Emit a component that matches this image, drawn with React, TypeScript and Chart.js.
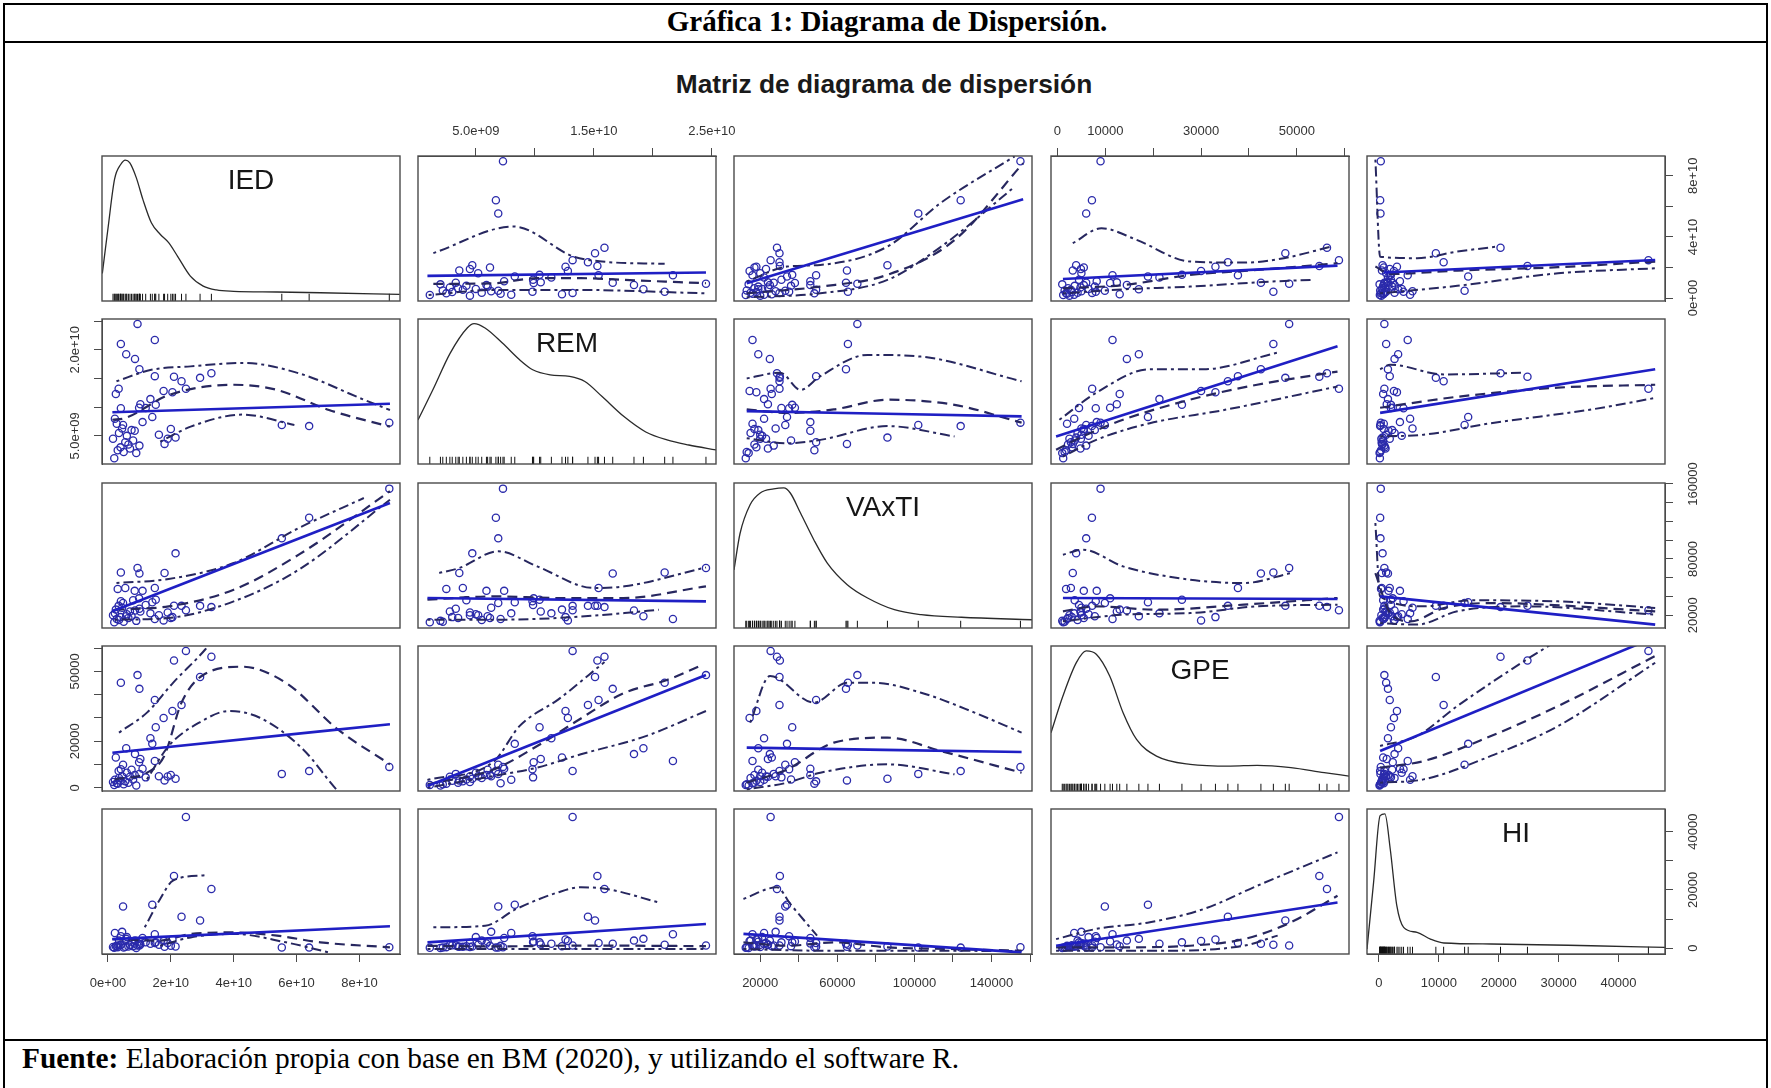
import { useEffect, useRef } from 'react';
import { Chart, registerables } from 'chart.js';

Chart.register(...registerables);

// ---------------- observations (one entry per country) ----------------
const IED = [89.5e9, 64.0e9, 55.3e9, 24.8e9, 21.5e9, 18.0e9, 10.0e9, 4.1e9, 9.4e9, 21.0e9, 32.9e9, 14.1e9, 4.8e9, 23.4e9, 29.3e9, 17.7e9, 20.5e9, 14.9e9, 15.2e9, 13.5e9, 8.6e9, 5.8e9, 14.9e9, 3.4e9, 2.5e9, 10.3e9, 2.0e9, 1.6e9, 2.2e9, 2.8e9, 3.1e9, 3.5e9, 4.0e9, 4.5e9, 5.0e9, 5.5e9, 6.0e9, 6.5e9, 7.0e9, 7.5e9, 8.0e9, 8.5e9, 9.0e9, 10.0e9, 11.0e9, 12.0e9, 16.2e9, 20.0e9, 19.0e9, 9.9e9, 4.1e9];
const REM = [7.3e9, 6.7e9, 6.9e9, 13.2e9, 4.7e9, 3.6e9, 16.6e9, 21.0e9, 24.5e9, 15.3e9, 15.9e9, 8.3e9, 6.9e9, 14.5e9, 15.1e9, 12.8e9, 12.6e9, 15.4e9, 10.4e9, 11.4e9, 18.4e9, 19.2e9, 21.7e9, 13.2e9, 12.3e9, 10.5e9, 1.1e9, 4.5e9, 8.0e9, 7.1e9, 2.5e9, 5.5e9, 3.0e9, 6.3e9, 2.2e9, 3.9e9, 5.0e9, 3.5e9, 2.8e9, 6.0e9, 4.2e9, 5.9e9, 2.0e9, 3.3e9, 7.4e9, 9.85e9, 5.2e9, 6.2e9, 4.5e9, 9.9e9, 9.8e9];
const VAXTI = [155000, 124000, 102000, 25400, 86000, 65000, 64500, 65500, 70400, 30200, 28700, 33900, 33000, 30000, 30000, 14500, 18000, 49000, 36600, 22000, 25000, 19000, 16000, 30000, 26000, 24000, 12500, 20000, 22000, 16000, 48100, 15000, 18000, 28000, 13000, 49000, 21000, 17000, 24000, 19000, 36000, 46000, 14000, 27000, 46000, 31000, 20000, 17000, 23000, 38000, 35000];
const GPE = [9000, 7200, 6000, 58800, 3900, 3200, 42500, 45100, 48400, 54700, 56300, 18900, 9900, 35600, 47600, 30000, 33000, 37700, 26000, 21300, 14500, 17000, 11500, 7250, 13000, 12400, 1200, 2500, 3500, 2000, 1800, 4200, 3000, 5000, 1500, 2800, 6500, 2200, 4800, 7800, 3600, 5500, 1000, 6000, 8200, 4500, 5000, 5500, 4900, 11000, 8000];
const HI = [300, 200, 250, 45000, 600, 500, 1500, 1200, 900, 24800, 20300, 14900, 14300, 10800, 9500, 2500, 3000, 1800, 2000, 1500, 2600, 3200, 4800, 900, 700, 1300, 150, 400, 5200, 800, 350, 2600, 1000, 5600, 200, 450, 3800, 600, 1100, 2200, 700, 1600, 100, 900, 3500, 2000, 1200, 800, 1800, 2300, 4100];

const VAR_NAMES = ['IED', 'REM', 'VAxTI', 'GPE', 'HI'];

// ---------------- axis limits ----------------
const LIM_IED = [-1.9e9, 92.9e9];
const LIM_REM = [0.1e9, 25.35e9];
const LIM_VAXTI = [6400, 161000];
const LIM_GPE = [-1350, 60900];
const LIM_HI = [-2000, 47770];

// ---------------- ticks & tick labels ----------------
const TICKS_IED = [0, 2e10, 4e10, 6e10, 8e10];
const TICKS_REM = [5e9, 1e10, 1.5e10, 2e10, 2.5e10];
const TICKS_VAXTI = [20000, 40000, 60000, 80000, 100000, 120000, 140000, 160000];
const TICKS_GPE = [0, 10000, 20000, 30000, 40000, 50000, 60000];
const TICKS_HI = [0, 10000, 20000, 30000, 40000];

const XLAB_IED = ['0e+00', '2e+10', '4e+10', '6e+10', '8e+10'];
const XLAB_REM = ['5.0e+09', '', '1.5e+10', '', '2.5e+10'];
const XLAB_VAXTI = ['20000', '', '60000', '', '100000', '', '140000', ''];
const XLAB_GPE = ['0', '10000', '', '30000', '', '50000', ''];
const XLAB_HI = ['0', '10000', '20000', '30000', '40000'];

const YLAB_IED = ['0e+00', '', '4e+10', '', '8e+10'];
const YLAB_REM = ['5.0e+09', '', '', '2.0e+10', ''];
const YLAB_VAXTI = ['20000', '', '', '80000', '', '', '', '160000'];
const YLAB_GPE = ['0', '', '20000', '', '', '50000', ''];
const YLAB_HI = ['0', '', '20000', '', '40000'];

// ---------------- diagonal densities (x value, relative height) ----------------
const DENS_IED_X = [-1.8e9, 0, 2.1e9, 4.1e9, 5.5e9, 6.9e9, 9.0e9, 11.1e9, 13.8e9, 16.6e9, 19.3e9, 22.1e9, 26.2e9, 30.3e9, 34.5e9, 40.0e9, 53.8e9, 67.6e9, 92.8e9];
const DENS_IED_Y = [0.19, 0.5, 0.84, 0.943, 0.972, 0.954, 0.851, 0.701, 0.54, 0.46, 0.402, 0.31, 0.172, 0.103, 0.076, 0.067, 0.062, 0.057, 0.046];
const DENS_REM_X = [0.1e9, 1.36e9, 2.83e9, 4.29e9, 4.85e9, 5.78e9, 7.25e9, 8.71e9, 9.82e9, 11.3e9, 12.95e9, 14.24e9, 15.7e9, 17.55e9, 19.4e9, 21.2e9, 23.05e9, 25.35e9];
const DENS_REM_Y = [0.304, 0.512, 0.765, 0.94, 0.968, 0.938, 0.834, 0.719, 0.65, 0.615, 0.604, 0.569, 0.465, 0.327, 0.221, 0.166, 0.131, 0.097];
const DENS_VAXTI_X = [6400, 9500, 14750, 20000, 27000, 32200, 35600, 40900, 47800, 54800, 65150, 75700, 89600, 103500, 124400, 161000];
const DENS_VAXTI_Y = [0.4, 0.65, 0.85, 0.931, 0.959, 0.966, 0.931, 0.793, 0.609, 0.448, 0.299, 0.207, 0.126, 0.092, 0.074, 0.057];
const DENS_GPE_X = [-1350, 1140, 3940, 6000, 8110, 10910, 13710, 16520, 20690, 27720, 36120, 41730, 48760, 55730, 60900];
const DENS_GPE_Y = [0.402, 0.655, 0.885, 0.966, 0.943, 0.793, 0.54, 0.356, 0.241, 0.184, 0.172, 0.177, 0.161, 0.126, 0.103];
const DENS_HI_X = [-2000, -900, 190, 990, 1880, 2980, 4120, 6360, 8600, 10840, 18700, 35480, 47770];
const DENS_HI_Y = [0.034, 0.494, 0.954, 0.966, 0.724, 0.333, 0.184, 0.149, 0.103, 0.076, 0.069, 0.057, 0.046];

// ---------------- fitted lines per panel (row_col): lm, loess, spread ----------------
const FIT_1_2 = {
  lm: [[0.9e9, 14.5e9], [24.5e9, 16.7e9]],
  lo: [[1.4e9, 9.3e9], [6.5e9, 9.7e9], [10.2e9, 13.0e9], [13.9e9, 13.0e9], [17.5e9, 11.9e9], [24.5e9, 9.7e9]],
  up: [[1.4e9, 29.4e9], [8.2e9, 46.8e9], [13.3e9, 27.1e9], [15.7e9, 23.9e9], [21.0e9, 22.4e9]],
  dn: [[1.0e9, 2.0e9], [6.5e9, 5.3e9], [13.9e9, 5.3e9], [24.5e9, 3.1e9]],
};
const FIT_1_3 = {
  lm: [[13000, 9.7e9], [156400, 64.7e9]],
  lo: [[13000, 3.1e9], [51200, 7.5e9], [86000, 15.2e9], [120800, 37.9e9], [156400, 88.2e9]],
  up: [[13000, 10.8e9], [33900, 20.6e9], [51200, 21.7e9], [86000, 33.7e9], [113500, 62.1e9], [152000, 92.7e9]],
  dn: [[13000, 0.5e9], [51200, 3.1e9], [86000, 11.9e9], [113900, 33.7e9], [152200, 73e9]],
};
const FIT_1_4 = {
  lm: [[1140, 12.5e9], [58500, 21.2e9]],
  lo: [[1140, 6.4e9], [13700, 8.5e9], [27700, 15.1e9], [41700, 18.4e9], [58500, 22.8e9]],
  up: [[3200, 35.9e9], [9200, 45.7e9], [16500, 38.1e9], [27700, 23.9e9], [38900, 23.2e9], [47300, 26.1e9], [57200, 33.7e9]],
  dn: [[1140, 3.1e9], [13700, 5.7e9], [27700, 7.5e9], [44500, 10.8e9], [52900, 11.9e9]],
};
const FIT_1_5 = {
  lm: [[790, 16.7e9], [46130, 24.9e9]],
  lo: [[-600, 20.6e9], [1880, 15.8e9], [13080, 18.0e9], [29900, 20.2e9], [46130, 23.9e9]],
  up: [[-600, 90.5e9], [190, 27.1e9], [6360, 26.1e9], [13080, 30.4e9], [19800, 33.7e9]],
  dn: [[190, 3.1e9], [13080, 8.0e9], [29900, 16.2e9], [46130, 19.5e9]],
};
const FIT_2_1 = {
  lm: [[1.4e9, 9.1e9], [89.7e9, 10.6e9]],
  lo: [[1.4e9, 7.8e9], [5.5e9, 8.1e9], [19.3e9, 12.1e9], [40e9, 13.9e9], [53.8e9, 13.0e9], [70.3e9, 9.5e9], [89.7e9, 6.6e9]],
  up: [[2.7e9, 14.5e9], [13.8e9, 16.5e9], [26.3e9, 17.1e9], [42.8e9, 17.7e9], [60.7e9, 15.9e9], [81.4e9, 11.3e9], [89.7e9, 9.5e9]],
  dn: [[16.6e9, 4.0e9], [26.3e9, 6.6e9], [42.8e9, 8.7e9], [59.3e9, 6.9e9]],
};
const FIT_2_3 = {
  lm: [[13000, 9.3e9], [155600, 8.4e9]],
  lo: [[13000, 9.6e9], [33900, 9.0e9], [58200, 9.6e9], [86000, 11.3e9], [120800, 10.4e9], [155600, 7.3e9]],
  up: [[13000, 15.0e9], [30400, 16.0e9], [40900, 13.0e9], [51200, 15.4e9], [75700, 19.1e9], [103300, 18.8e9], [155600, 14.5e9]],
  dn: [[13000, 4.6e9], [33900, 3.7e9], [51200, 4.3e9], [86000, 6.7e9], [120800, 4.9e9]],
};
const FIT_2_4 = {
  lm: [[-290, 4.9e9], [58500, 20.6e9]],
  lo: [[-290, 2.6e9], [5300, 4.9e9], [13700, 7.8e9], [27700, 11.3e9], [41700, 13.9e9], [58500, 16.2e9]],
  up: [[400, 7.8e9], [8100, 12.5e9], [19300, 16.6e9], [30500, 16.6e9], [46000, 19.5e9]],
  dn: [[1140, 1.4e9], [8100, 4.3e9], [19300, 7.2e9], [34800, 9.5e9], [58500, 13.6e9]],
};
const FIT_2_5 = {
  lm: [[190, 9.0e9], [46130, 16.6e9]],
  lo: [[190, 9.9e9], [13080, 11.8e9], [29900, 13.4e9], [46130, 13.9e9]],
  up: [[190, 16.6e9], [1880, 17.4e9], [10840, 15.7e9], [24300, 16.0e9]],
  dn: [[190, 4.9e9], [7460, 5.2e9], [18700, 7.2e9], [35500, 9.6e9], [46130, 11.6e9]],
};
const FIT_3_1 = {
  lm: [[1.4e9, 24200], [89.7e9, 139700]],
  lo: [[2.1e9, 25900], [19.3e9, 29500], [40e9, 47200], [60.7e9, 84600], [89.7e9, 152200]],
  up: [[2.7e9, 54400], [19.3e9, 58700], [40e9, 75700], [60.7e9, 113000], [81.4e9, 145000]],
  dn: [[2.1e9, 15200], [19.3e9, 17100], [40e9, 34800], [60.7e9, 68600], [89.7e9, 143200]],
};
const FIT_3_2 = {
  lm: [[0.9e9, 38400], [24.5e9, 34800]],
  lo: [[0.9e9, 36600], [6.5e9, 40100], [12.0e9, 38400], [17.5e9, 38400], [24.5e9, 50800]],
  up: [[1.9e9, 65000], [3.6e9, 70400], [6.9e9, 88200], [10.2e9, 72100], [15.0e9, 49100], [17.6e9, 50800], [24.5e9, 71000]],
  dn: [[0.9e9, 15200], [6.5e9, 15200], [12.0e9, 17100], [17.6e9, 22300], [20.5e9, 25900]],
};
const FIT_3_4 = {
  lm: [[1140, 38400], [58500, 37300]],
  lo: [[1140, 24200], [8100, 29500], [20750, 25900], [38900, 31300], [58500, 38400]],
  up: [[1140, 84600], [5300, 89900], [13700, 72100], [27700, 57900], [38900, 54300], [48800, 65000]],
  dn: [[1140, 13500], [13700, 20600], [27700, 22300], [41700, 29500], [58500, 31300]],
};
const FIT_3_5 = {
  lm: [[190, 40100], [46130, 10000]],
  lo: [[-600, 65000], [1880, 22300], [5270, 13500], [10840, 27700], [18700, 33000], [46130, 24200]],
  up: [[-600, 118300], [190, 40100], [7460, 29500], [15320, 35900], [29900, 34800], [46130, 27700]],
  dn: [[190, 11700], [6360, 10000], [13080, 24200], [24300, 29500], [46130, 20600]],
};
const FIT_4_1 = {
  lm: [[1.4e9, 15100], [89.7e9, 27300]],
  lo: [[2.1e9, 3650], [12.4e9, 6500], [17.9e9, 13700], [23.4e9, 36600], [30.3e9, 48450], [42.8e9, 52000], [56.6e9, 45100], [73.1e9, 25100], [89.7e9, 10100]],
  up: [[3.5e9, 23700], [12.4e9, 32300], [20.7e9, 45100], [31.0e9, 59500], [33e9, 63000]],
  dn: [[12.4e9, 3650], [19.3e9, 17950], [29.0e9, 28000], [38.6e9, 33000], [48.3e9, 30100], [62.1e9, 16500], [73.1e9, -1350], [76e9, -5000]],
};
const FIT_4_2 = {
  lm: [[0.9e9, 800], [24.5e9, 48450]],
  lo: [[0.9e9, 1500], [6.5e9, 7900], [10.2e9, 17950], [13.9e9, 29800], [17.5e9, 40600], [21.2e9, 46300], [24.0e9, 52300]],
  up: [[0.9e9, 3400], [6.5e9, 11200], [8.7e9, 26500], [12.0e9, 38000], [15.9e9, 54000]],
  dn: [[0.9e9, 100], [6.5e9, 5100], [10.2e9, 8700], [13.9e9, 14400], [19.4e9, 22200], [24.5e9, 33000]],
};
const FIT_4_3 = {
  lm: [[13000, 17250], [155600, 15400]],
  lo: [[13000, 2200], [33900, 7900], [58200, 19400], [86000, 21550], [113800, 15800], [155600, 6500]],
  up: [[14800, 28000], [25100, 48000], [47800, 36600], [65200, 45100], [79100, 45100], [103500, 40850], [131200, 32300], [155600, 23700]],
  dn: [[13000, -650], [33900, 2200], [51200, 6500], [86000, 10100], [120800, 5800]],
};
const FIT_4_5 = {
  lm: [[190, 15800], [46130, 64700]],
  lo: [[190, 8700], [7460, 11500], [18700, 22250], [29900, 35100], [46130, 56600]],
  up: [[190, 17950], [6360, 22250], [13080, 35100], [24300, 54500], [29000, 62000]],
  dn: [[190, 2200], [7460, 3650], [18700, 13700], [29900, 26500], [46130, 53700]],
};
const FIT_5_1 = {
  lm: [[1.4e9, 3100], [89.7e9, 7500]],
  lo: [[1.4e9, 3100], [16.6e9, 2600], [26.3e9, 4900], [40e9, 5400], [53.8e9, 4300], [67.6e9, 2000], [89.7e9, 300]],
  up: [[11.7e9, 7150], [16.6e9, 16900], [20.7e9, 23200], [31.0e9, 25100]],
  dn: [[16.6e9, 840], [26.3e9, 3700], [40e9, 4900], [56.6e9, 2000], [70.3e9, -1450]],
};
const FIT_5_2 = {
  lm: [[0.9e9, 2000], [24.5e9, 8300]],
  lo: [[0.9e9, 800], [6.5e9, 600], [13.9e9, 900], [24.5e9, 700]],
  up: [[1.4e9, 7150], [5.8e9, 7700], [8.4e9, 13400], [12.0e9, 19200], [13.9e9, 20900], [16.1e9, 20300], [20.5e9, 15700]],
  dn: [[0.9e9, -300], [24.5e9, -300]],
};
const FIT_5_3 = {
  lm: [[11300, 4900], [155600, -1450]],
  lo: [[11300, 2000], [33900, 840], [58200, 2000], [86000, 300], [120800, -300], [155600, -870]],
  up: [[11300, 16900], [28700, 20900], [35600, 15200], [49500, 4300]],
  dn: [[11300, -300], [51200, -870], [103500, -870], [155600, -1000]],
};
const FIT_5_4 = {
  lm: [[-290, 840], [58500, 15700]],
  lo: [[-290, 300], [13700, 300], [27700, 840], [38900, 3100], [48800, 8900], [58500, 18000]],
  up: [[-290, 3100], [8100, 6600], [19300, 8900], [30500, 13400], [41700, 21400], [58500, 32900]],
  dn: [[-290, -870], [20700, -870], [38900, 840], [46000, 4300]],
};

// ---------------- lookup tables built from the arrays above ----------------
const DATA = [IED, REM, VAXTI, GPE, HI];
const LIMS = [LIM_IED, LIM_REM, LIM_VAXTI, LIM_GPE, LIM_HI];
const TICKS = [TICKS_IED, TICKS_REM, TICKS_VAXTI, TICKS_GPE, TICKS_HI];
const XLABS = [XLAB_IED, XLAB_REM, XLAB_VAXTI, XLAB_GPE, XLAB_HI];
const YLABS = [YLAB_IED, YLAB_REM, YLAB_VAXTI, YLAB_GPE, YLAB_HI];
const DENS_X = [DENS_IED_X, DENS_REM_X, DENS_VAXTI_X, DENS_GPE_X, DENS_HI_X];
const DENS_Y = [DENS_IED_Y, DENS_REM_Y, DENS_VAXTI_Y, DENS_GPE_Y, DENS_HI_Y];
const FITS: Record<string, any> = {
  '0-1': FIT_1_2, '0-2': FIT_1_3, '0-3': FIT_1_4, '0-4': FIT_1_5,
  '1-0': FIT_2_1, '1-2': FIT_2_3, '1-3': FIT_2_4, '1-4': FIT_2_5,
  '2-0': FIT_3_1, '2-1': FIT_3_2, '2-3': FIT_3_4, '2-4': FIT_3_5,
  '3-0': FIT_4_1, '3-1': FIT_4_2, '3-2': FIT_4_3, '3-4': FIT_4_5,
  '4-0': FIT_5_1, '4-1': FIT_5_2, '4-2': FIT_5_3, '4-3': FIT_5_4,
};

// ---------------- layout ----------------
const PANEL_LEFT = [102, 418, 734, 1051, 1367];
const PANEL_TOP = [156, 319, 483, 646, 809];
const PANEL_W = 298;
const PANEL_H = 145;
const M = 50;
const RUG_Y = 0.025;

const SANS = "'Liberation Sans', Arial, Helvetica, sans-serif";
const SERIF = "'Liberation Serif', 'Times New Roman', serif";
const POINT_COLOR = '#2b2bab';
const LM_COLOR = '#1f1fc4';
const SMOOTH_COLOR = '#27275f';
const AXIS_COLOR = '#4a4a4a';

const toXY = (a: number[][]) => a.map(([x, y]) => ({ x, y }));

function lineDs(data: number[][], color: string, width: number, dash: number[]) {
  return {
    data: toXY(data),
    showLine: true,
    borderColor: color,
    backgroundColor: color,
    borderWidth: width,
    borderDash: dash,
    pointRadius: 0,
    pointHoverRadius: 0,
    cubicInterpolationMode: 'monotone',
    fill: false,
  };
}

function Panel({ r, c }: { r: number; c: number }) {
  const ref = useRef<HTMLCanvasElement>(null);
  useEffect(() => {
    const canvas = ref.current;
    if (!canvas) return;
    const diag = r === c;
    const hasTop = r === 0 && c % 2 === 1;
    const hasBottom = r === 4 && c % 2 === 0;
    const hasLeft = c === 0 && r % 2 === 1;
    const hasRight = c === 4 && r % 2 === 0;
    const XA = 46;
    const YA = 10;

    const datasets: any[] = [];
    if (diag) {
      datasets.push({
        data: DENS_X[c].map((x, i) => ({ x, y: DENS_Y[c][i] })),
        yAxisID: 'yd',
        showLine: true,
        borderColor: '#2a2a2a',
        borderWidth: 1.3,
        pointRadius: 0,
        cubicInterpolationMode: 'monotone',
        fill: false,
      });
      datasets.push({
        data: DATA[c].map((x) => ({ x, y: RUG_Y })),
        yAxisID: 'yd',
        showLine: false,
        pointStyle: 'line',
        rotation: 90,
        pointRadius: 3.6,
        borderColor: '#111',
        pointBorderColor: '#111',
        pointBorderWidth: 1,
      });
    } else {
      const fit = FITS[`${r}-${c}`];
      datasets.push(lineDs(fit.lm, LM_COLOR, 2.6, []));
      datasets.push(lineDs(fit.lo, SMOOTH_COLOR, 2.2, [10, 6]));
      datasets.push(lineDs(fit.up, SMOOTH_COLOR, 2.0, [3, 4, 10, 4]));
      datasets.push(lineDs(fit.dn, SMOOTH_COLOR, 2.0, [3, 4, 10, 4]));
      datasets.push({
        data: DATA[c].map((x, i) => ({ x, y: DATA[r][i] })),
        showLine: false,
        pointStyle: 'circle',
        pointRadius: 3.6,
        pointBorderWidth: 1.3,
        borderColor: POINT_COLOR,
        pointBorderColor: POINT_COLOR,
        backgroundColor: 'rgba(0,0,0,0)',
        pointBackgroundColor: 'rgba(0,0,0,0)',
      });
    }

    const deco = {
      id: 'panelDeco',
      afterDatasetsDraw(chart: any) {
        const { ctx, chartArea: a } = chart;
        ctx.save();
        ctx.strokeStyle = AXIS_COLOR;
        ctx.lineWidth = 1.4;
        ctx.strokeRect(a.left, a.top, a.right - a.left, a.bottom - a.top);
        if (diag) {
          ctx.fillStyle = '#161616';
          ctx.font = `28px ${SANS}`;
          ctx.textAlign = 'center';
          ctx.textBaseline = 'middle';
          ctx.fillText(VAR_NAMES[c], (a.left + a.right) / 2, a.top + 25);
        }
        if (hasLeft || hasRight) {
          const ys = chart.scales.y;
          ctx.fillStyle = '#333';
          ctx.font = `13px ${SANS}`;
          ctx.textAlign = 'center';
          ctx.textBaseline = 'middle';
          TICKS[r].forEach((v: number, i: number) => {
            const lab = YLABS[r][i];
            if (!lab) return;
            const py = ys.getPixelForValue(v);
            const px = hasLeft ? a.left - 27 : a.right + 28;
            ctx.save();
            ctx.translate(px, py);
            ctx.rotate(-Math.PI / 2);
            ctx.fillText(lab, 0, 0);
            ctx.restore();
          });
        }
        ctx.restore();
      },
    };

    const scales: any = {
      x: {
        type: 'linear',
        position: hasTop ? 'top' : 'bottom',
        display: hasTop || hasBottom,
        min: LIMS[c][0],
        max: LIMS[c][1],
        afterBuildTicks: (s: any) => {
          s.ticks = TICKS[c].map((v: number) => ({ value: v }));
        },
        afterFit: (s: any) => {
          if (hasTop || hasBottom) s.height = XA;
          s.paddingLeft = 0;
          s.paddingRight = 0;
          s.paddingTop = 0;
          s.paddingBottom = 0;
        },
        ticks: {
          autoSkip: false,
          maxRotation: 0,
          minRotation: 0,
          padding: hasTop ? 9 : 14,
          color: '#333',
          font: { family: SANS, size: 13 },
          callback: (_v: any, i: number) => XLABS[c][i] ?? '',
        },
        grid: { drawOnChartArea: false, drawTicks: true, tickLength: 8, color: AXIS_COLOR, lineWidth: 1 },
        border: { display: true, color: AXIS_COLOR, width: 1 },
      },
      y: {
        type: 'linear',
        position: hasLeft ? 'left' : 'right',
        display: hasLeft || hasRight,
        min: LIMS[r][0],
        max: LIMS[r][1],
        afterBuildTicks: (s: any) => {
          s.ticks = TICKS[r].map((v: number) => ({ value: v }));
        },
        afterFit: (s: any) => {
          if (hasLeft || hasRight) s.width = YA;
          s.paddingLeft = 0;
          s.paddingRight = 0;
          s.paddingTop = 0;
          s.paddingBottom = 0;
        },
        ticks: { display: false },
        grid: { drawOnChartArea: false, drawTicks: true, tickLength: 8, color: AXIS_COLOR, lineWidth: 1 },
        border: { display: true, color: AXIS_COLOR, width: 1 },
      },
    };
    if (diag) {
      scales.yd = { type: 'linear', display: false, min: 0, max: 1 };
    }

    const chart = new Chart(canvas, {
      type: 'scatter',
      data: { datasets },
      options: {
        animation: false,
        responsive: false,
        devicePixelRatio: 1,
        events: [],
        layout: {
          padding: {
            left: hasLeft ? M - YA : M,
            right: hasRight ? M - YA : M,
            top: hasTop ? M - XA : M,
            bottom: hasBottom ? M - XA : M,
          },
        },
        plugins: { legend: { display: false }, tooltip: { enabled: false }, title: { display: false } },
        scales,
      } as any,
      plugins: [deco],
    } as any);
    return () => chart.destroy();
  }, [r, c]);

  const w = PANEL_W + 2 * M;
  const h = PANEL_H + 2 * M;
  return (
    <canvas
      ref={ref}
      width={w}
      height={h}
      style={{ position: 'absolute', left: PANEL_LEFT[c] - M, top: PANEL_TOP[r] - M, width: w, height: h }}
    />
  );
}

export default function App() {
  const panels = [];
  for (let r = 0; r < 5; r++) {
    for (let c = 0; c < 5; c++) {
      panels.push(<Panel key={`${r}-${c}`} r={r} c={c} />);
    }
  }
  return (
    <div style={{ position: 'fixed', left: 0, top: 0, width: 1771, height: 1088, background: '#fff', overflow: 'hidden' }}>
      <div style={{ position: 'absolute', left: 3, top: 3, width: 1765, height: 1100, border: '2px solid #000', boxSizing: 'border-box' }} />
      <div style={{ position: 'absolute', left: 3, top: 41, width: 1765, height: 2, background: '#000' }} />
      <div style={{ position: 'absolute', left: 3, top: 1039, width: 1765, height: 2, background: '#000' }} />
      <div style={{ position: 'absolute', left: 0, top: 5, width: 1774, height: 36, lineHeight: '36px', textAlign: 'center', font: `bold 29px ${SERIF}`, color: '#000' }}>
        Gráfica 1: Diagrama de Dispersión.
      </div>
      <div style={{ position: 'absolute', left: 0, top: 69, width: 1768, height: 32, lineHeight: '32px', textAlign: 'center', font: `bold 26.3px ${SANS}`, color: '#1a1a1a' }}>
        Matriz de diagrama de dispersión
      </div>
      {panels}
      <div style={{ position: 'absolute', left: 22, top: 1042, height: 42, lineHeight: '42px', font: `29.4px ${SERIF}`, color: '#000', whiteSpace: 'nowrap' }}>
        <b>Fuente:</b> Elaboración propia con base en BM (2020), y utilizando el software R.
      </div>
    </div>
  );
}
